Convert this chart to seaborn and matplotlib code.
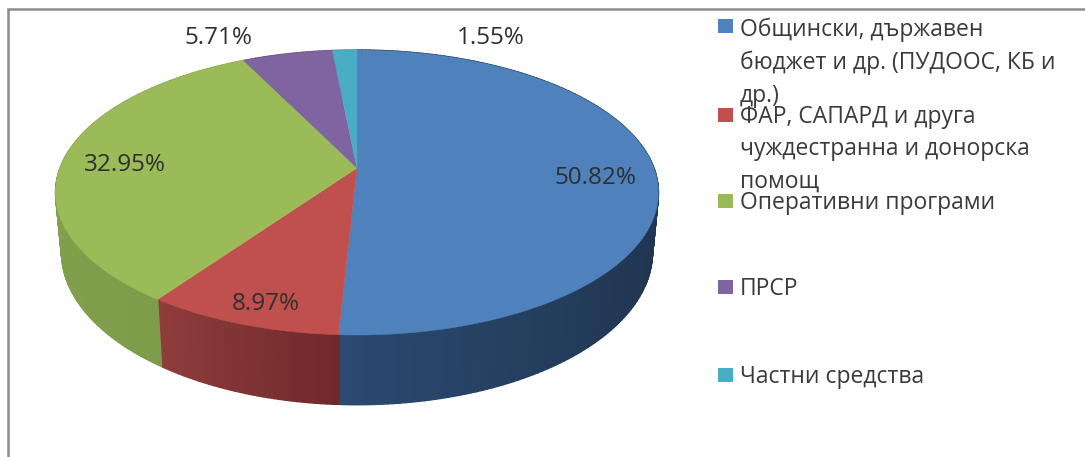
import numpy as np
import matplotlib
matplotlib.use("Agg")
import matplotlib.pyplot as plt
from matplotlib.colors import to_rgb
from matplotlib.patches import Rectangle
import seaborn as sns

categories = ["Общински, държавен\nбюджет и др. (ПУДООС, КБ и\nдр.)",
              "ФАР, САПАРД и друга\nчуждестранна и донорска\nпомощ",
              "Оперативни програми", "ПРСР", "Частни средства"]
values = [50.82, 8.97, 32.95, 5.71, 1.55]
value_labels = ["50.82%", "8.97%", "32.95%", "5.71%", "1.55%"]
top_colors = ["#4f81bd", "#c0504d", "#9bbb59", "#8064a2", "#4bacc6"]
wall_start = ["#1d3048", "#70292b", "#7f9c4a", "#5f4a7a", "#38808f"]
wall_end = ["#2b4a70", "#8f3d3b", "#87a450", "#5f4a7a", "#38808f"]
wall_gamma = [3.0, 1.0, 1.0, 1.0, 1.0]

sns.set_theme(style="white")
plt.rcParams["font.family"] = ["Open Sans", "DejaVu Sans"]
TXT = "#3a3a3a"
palette = sns.color_palette(top_colors)

CX, CY, A, B, K = 357, 168, 297, 138.3, 0.172
SX, SY, DY = 0.98, 1.07, 58


def rim(theta):
    u, v = np.sin(theta), np.cos(theta)
    w = 1 + K * v
    return CX + A * u / w, CY - B * v / w


def rim_bottom(theta):
    x, y = rim(theta)
    return CX + SX * (x - CX), CY + DY + SY * (y - CY)


fig = plt.figure(figsize=(10.85, 4.57), dpi=100, facecolor="white")
ax = fig.add_axes([0, 0, 1, 1])
ax.set_xlim(0, 1085)
ax.set_ylim(457, 0)
ax.axis("off")

ax.plot([8, 8, 1085], [457, 9, 9], color="#8c8c8c", lw=1.8, solid_joinstyle="miter")

edges = np.radians(np.concatenate([[0], np.cumsum(values)]) * 3.6 / (sum(values) / 100))

# side walls
for i in range(len(values)):
    ths = np.linspace(edges[i], edges[i + 1], max(3, int(np.degrees(edges[i + 1] - edges[i])) + 2))
    c0, c1 = np.array(to_rgb(wall_start[i])), np.array(to_rgb(wall_end[i]))
    for j in range(len(ths) - 1):
        t = (j / max(1, len(ths) - 2)) ** wall_gamma[i]
        col = c0 + (c1 - c0) * t
        pair = np.array([ths[j], ths[j + 1]])
        xt, yt = rim(pair)
        xb, yb = rim_bottom(pair)
        ax.fill([xt[0], xt[1], xb[1], xb[0]], [yt[0], yt[1], yb[1], yb[0]],
                facecolor=col, edgecolor=col, lw=1.0, zorder=2)

# top surface
for i in range(len(values)):
    ths = np.linspace(edges[i], edges[i + 1], 200)
    x, y = rim(ths)
    ax.fill(np.r_[CX, x], np.r_[CY, y], color=palette[i], lw=0.3, zorder=3)

# value labels
label_xy = [(596, 178), (266, 304), (125, 165), (218, 38), (491, 38)]
for s, (x, y) in zip(value_labels, label_xy):
    ax.text(x, y, s, fontsize=17.5, color="#2f2f2f", ha="center", va="center", zorder=5)

# legend
swatch_y = [26, 115, 201, 287, 375]
line_ys = [[30, 63, 96], [117, 149, 182], [203], [289], [377]]
for i, cat in enumerate(categories):
    ax.add_patch(Rectangle((718, swatch_y[i] - 7), 15, 14, color=palette[i], lw=0, zorder=4))
    for line, y in zip(cat.split("\n"), line_ys[i]):
        ax.text(740, y, line, fontsize=16.5, color=TXT, ha="left", va="center", zorder=5)

fig.savefig("out.png", dpi=100, facecolor="white")
